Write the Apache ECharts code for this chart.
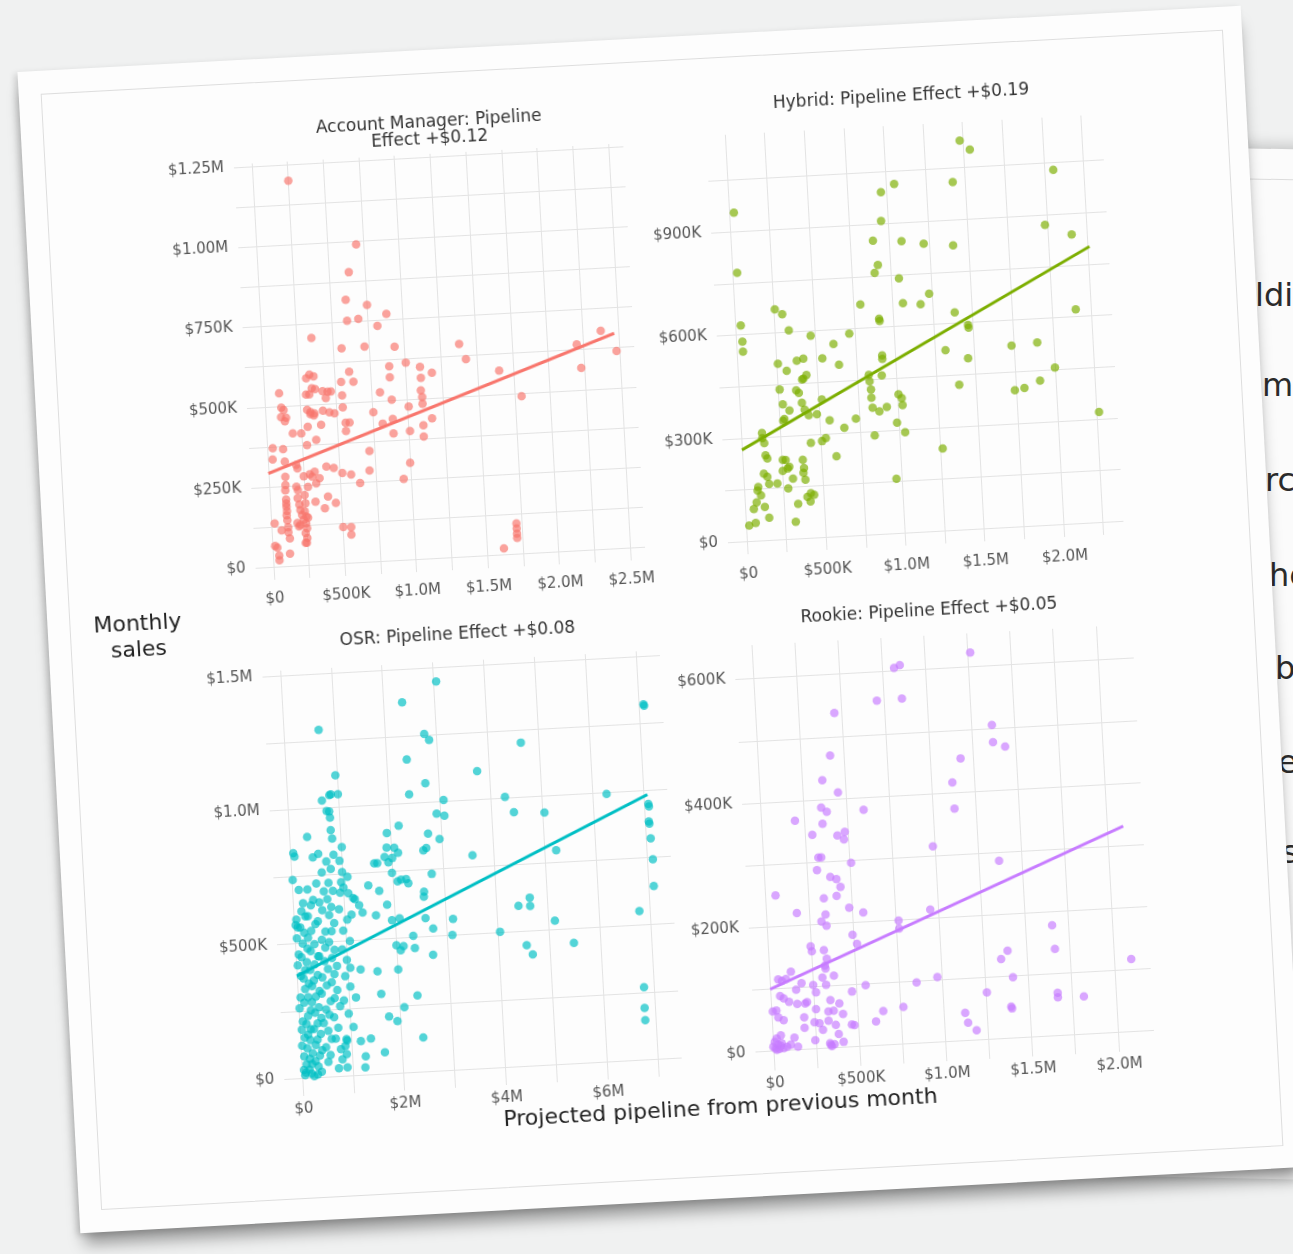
<!DOCTYPE html>
<html>
<head>
<meta charset="utf-8">
<title>Pipeline effect by role</title>
<script src="https://cdn.jsdelivr.net/npm/echarts@6/dist/echarts.min.js"></script>
<style>
html, body { margin: 0; padding: 0; }
body {
  width: 1293px; height: 1254px; overflow: hidden;
  background: #f0f1f1; position: relative;
  font-family: 'DejaVu Sans', sans-serif;
}
.back-card {
  position: absolute; left: 1110px; top: 150px; width: 420px; height: 1030px;
  background: #fbfbfb; transform: rotate(1.2deg);
  box-shadow: 0 -4px 14px rgba(0,0,0,0.18);
}
.back-card .rule { position: absolute; left: 0; right: 0; top: 30px; border-top: 1px solid #dcdcdc; }
.back-text { position: absolute; font-size: 32px; color: #2b2b2b; line-height: 36px; }
.card {
  position: absolute; left: 47.5px; top: 37.5px; width: 1225px; height: 1163px;
  background: #fdfdfd; transform: rotate(-3.1deg);
  box-shadow: 0 15px 16px -4px rgba(0,0,0,0.38), -3px 2px 6px rgba(0,0,0,0.15);
}
.card .frame {
  position: absolute; left: 22px; top: 23px; width: 1184px; height: 1118px;
  border: 1px solid #dedede; box-sizing: border-box;
}
#chart-container { position: absolute; left: 0; top: 0; width: 1225px; height: 1163px; }
</style>
</head>
<body>
<div class="back-card"><div class="rule"></div></div>
<div class="back-text" style="left:1255px;top:277px">ldi</div>
<div class="back-text" style="left:1262px;top:367px">m</div>
<div class="back-text" style="left:1265px;top:462px">rc</div>
<div class="back-text" style="left:1269px;top:557px">he</div>
<div class="back-text" style="left:1275px;top:650px">b</div>
<div class="back-text" style="left:1278px;top:744px">e</div>
<div class="back-text" style="left:1282px;top:834px">s</div>
<div class="card">
  <div class="frame"></div>
  <div id="chart-container"></div>
</div>

<script>
// all money values in $K: [projected pipeline, monthly sales]
const amPoints = [
  [250,1200],[700,990],[638,905],[606,820],[753,800],[608,754],[687,758],[885,769],[818,733],[352,707],
  [559,669],[720,671],[930,665],[1382,663],[1424,615],[1652,573],[1799,490],[2204,642],[2377,680],[2227,568],
  [2480,615],[1618,19],[1715,95],[1715,79],[1715,63],[1715,50],
  [1002,614],[1100,598],[885,605],[885,571],[1181,578],[1102,564],[1097,525],[1104,504],[1104,483],[890,501],
  [811,526],[1006,477],[757,465],[818,428],[890,441],[890,396],[1006,400],[1165,436],[1102,416],[1100,381],
  [995,301],[944,252],[715,345],[708,284],[638,247],[578,275],[517,281],[503,113],[559,111],[557,88],
  [629,563],[603,595],[543,565],[545,523],[545,485],[559,437],[587,437],[559,411],[408,304],[459,298],
  [408,210],[461,189],[382,174],[319,196],[324,290],[305,275],[289,283],[331,253],[261,148],
  [40,370],[35,335],[25,135],[20,65],[35,60],[45,35],[45,20],[105,540],[115,495],[130,487],
  [110,465],[145,463],[135,452],[112,365],[119,326],[117,279],[115,253],[112,237],[114,208],[114,195],
  [114,185],[116,172],[112,159],[115,143],[118,121],[118,106],[126,86],[71,113],[121,39],[186,413],
  [245,411],[198,314],[205,303],[191,246],[200,235],[195,210],[205,190],[210,173],[220,157],[230,142],
  [185,133],[195,122],[205,127],[245,219],[248,193],[240,168],[250,152],[245,131],[250,115],[238,100],
  [248,85],[235,70],[243,70],[272,244],[246,277],[293,531],[316,531],[295,484],[318,476],[345,471],
  [324,593],[352,587],[300,582],[335,550],[358,547],[316,470],[340,465],[293,431],[281,374],[347,389],
  [387,435],[410,539],[445,537],[468,537],[430,517],[405,478],[450,472],[485,468],[356,269]
];
const hybridPoints = [
  [30,955],[30,780],[35,627],[40,580],[40,551],[255,668],[300,653],[336,605],[472,586],[716,586],
  [796,669],[964,991],[1050,1013],[955,908],[897,852],[1077,846],[1216,835],[1420,1009],[1478,1128],[1539,1101],
  [1401,826],[2058,1029],[1987,871],[2152,839],[2152,621],[2264,320],[920,781],[897,758],[1048,739],[1065,666],
  [1176,660],[1233,689],[909,625],[912,618],[1388,631],[1468,593],[1470,585],[1317,523],[1457,496],[1392,421],
  [1735,526],[1898,531],[1741,396],[1802,401],[1903,420],[2001,456],[1266,239],[964,158],[842,287],[1035,292],
  [987,321],[928,368],[880,356],[838,368],[834,397],[834,421],[828,445],[825,464],[907,460],[916,508],
  [916,518],[1006,403],[1025,391],[1028,371],[729,339],[653,314],[594,233],[563,338],[521,400],[485,358],
  [508,279],[533,287],[538,519],[613,559],[641,498],[418,521],[376,516],[412,463],[432,473],[403,461],
  [362,430],[378,422],[394,393],[409,373],[433,356],[437,276],[309,488],[256,510],[258,435],[273,392],
  [313,373],[270,344],[278,349],[380,228],[385,204],[380,190],[390,170],[397,120],[420,130],[415,106],
  [440,125],[336,101],[315,49],[279,147],[312,175],[254,231],[272,230],[250,199],[282,205],[293,210],
  [212,163],[160,163],[151,184],[130,194],[147,247],[157,237],[132,312],[132,297],[143,282],[90,156],
  [85,146],[75,112],[55,93],[105,131],[125,97],[149,65],[20,46],[62,52]
];
const osrPoints = [
  [3050,1447],[2360,1377],[690,1291],[2760,1255],[2850,1231],[4650,1203],[2390,1163],[3760,1106],[2730,1071],[970,1119],
  [2400,1033],[3070,1005],[2920,956],[3070,947],[4280,1004],[4440,946],[5040,938],[6280,995],[7100,1321],[7110,1315],
  [7090,949],[7100,940],[7080,884],[7090,876],[7100,821],[7120,743],[7110,643],[6800,553],[6810,269],[6800,192],[6800,146],
  [4430,597],[4660,625],[4660,594],[4040,504],[4550,449],[4660,413],[5130,534],[5480,448],[5230,796],[3580,794],
  [3130,561],[3100,502],[2730,530],[2700,432],[2420,127],[2350,284],[2080,243],[1930,193],[1770,211],[1650,79],
  [1640,297],[1590,382],[2000,384],[1140,289],[1260,392],[1390,133],[1190,126],[1270,68],[1250,27],[900,31],
  [730,29],[910,136],[880,111],[900,80],[810,61],[2350,461],[2330,506],[2130,470],[2590,668],[2580,650],
  [2620,822],[2680,830],[2730,883],[2950,861],[2760,733],[2590,570],[2250,719],[2290,703],[2160,919],[1920,894],
  [1900,840],[2050,838],[2120,818],[2000,800],[1920,785],[1850,805],[1980,745],[2080,712],[2150,718],[1640,784],
  [1700,784],[1500,703],[1710,680],[1620,590],[1850,627],[1930,569],[2080,574],[1990,475],[2070,455],[1190,659],
  [1360,603],[1140,598],[1300,631],
  [20,738],[60,838],[80,825],[50,590],[30,570],[70,560],[40,520],[60,460],[30,420],[80,380],
  [50,300],[20,260],[70,210],[40,180],[90,150],[30,120],[60,80],[100,50],[40,30],[80,20],[60,10],
  [350,895],[130,700],[200,650],[160,620],[230,600],[120,560],[190,540],[150,500],[240,480],[110,450],
  [210,430],[170,400],[130,370],[230,350],[150,330],[200,300],[120,280],[240,250],[180,230],[140,200],
  [220,180],[160,160],[200,140],[130,110],[230,90],[170,70],[210,50],[150,30],[190,15],[240,5],
  [440,818],[300,700],[400,660],[350,640],[280,600],[420,570],[330,545],[260,520],[380,495],[300,470],
  [440,450],[360,420],[270,400],[410,380],[330,360],[290,340],[430,320],[350,300],[270,280],[400,260],
  [320,240],[440,220],[360,200],[280,180],[410,160],[340,140],[300,120],[420,100],[370,80],[280,60],
  [330,40],[390,20],[310,10],
  [550,830],[600,760],[480,720],[620,690],[520,650],[570,620],[470,580],[610,540],[530,510],[590,480],
  [460,450],[560,430],[620,400],[500,370],[580,340],[470,310],[640,280],[540,250],[600,230],[480,200],
  [560,170],[620,140],[500,110],[580,80],[530,55],
  [680,1028],[760,988],[830,1046],[860,1049],[810,986],[820,962],[820,916],[840,884],[850,824],[700,800],
  [780,772],[720,720],[800,690],[680,660],[750,630],[700,600],[790,570],[730,540],[670,500],[770,470],
  [710,440],[800,410],[740,380],[680,350],[780,320],[720,290],[820,260],[690,220],[760,180],[700,140],[790,100],
  [1000,1048],[1020,851],[960,800],[1000,758],[1100,739],[970,720],[1010,700],[940,681],[1100,678],[1220,654],
  [900,620],[1050,580],[960,540],[1080,500],[920,470],[1000,430],[1060,400],[950,370],[1040,330],[900,280],
  [980,230],[1060,180],[920,130]
];
const rookiePoints = [
  [1264,623],[818,605],[852,609],[708,554],[854,555],[458,538],[1367,505],[1368,477],[1437,469],[1175,454],
  [1120,416],[1124,374],[420,470],[367,431],[454,410],[597,380],[196,368],[352,387],[383,380],[355,361],
  [292,344],[437,341],[481,346],[474,334],[987,315],[1366,286],[320,307],[337,307],[308,287],[383,275],
  [418,271],[439,258],[508,296],[60,250],[178,220],[339,241],[414,244],[483,224],[563,215],[344,215],
  [318,204],[346,197],[494,180],[517,165],[952,214],[765,199],[766,186],[1653,178],[1662,140],[1387,141],
  [1347,128],[2101,117],[1410,98],[1664,69],[1664,62],[1815,61],[1254,76],[1391,51],[1395,48],[1122,45],
  [1136,29],[1183,16],[972,105],[850,98],[766,60],[648,55],[603,39],[554,98],[473,89],[462,36],
  [477,35],[373,116],[414,54],[361,60],[330,59],[383,22],[409,9],[335,5],[356,6],[325,102],
  [264,91],[250,103],[306,114],[327,128],[324,133],[337,144],[323,158],[247,165],[253,157],[198,74],
  [259,64],[188,52],[187,35],[246,43],[245,14],[275,41],[293,30],[150,97],[183,107],[209,76],
  [152,74],[105,78],[75,84],[55,88],[29,65],[8,64],[70,112],[125,126],[94,115],[49,115],
  [38,54],[68,49],[21,20],[0,7],[29,10],[50,12],[60,4],[81,6],[13,4],[47,25],
  [143,5],[102,9],[125,20],[328,44],[369,37],[345,77],[396,71],[20,2],[35,3],[10,15],[45,8],[330,8],[340,3]
];

// fitted line end points
const amFit = [[0,292],[2470,670]];
const hybridFit = [[0,266],[2260,801]];
const osrFit = [[0,380],[7080,984]];
const rookieFit = [[0,100],[2096,331]];

const panelTitles = [
  'Account Manager: Pipeline\nEffect +$0.12',
  'Hybrid: Pipeline Effect +$0.19',
  'OSR: Pipeline Effect +$0.08',
  'Rookie: Pipeline Effect +$0.05'
];
const colors = ['#F8766D', '#7CAE00', '#00BFC4', '#C77CFF'];

// grid lines (major + minor) and labelled ticks, $K
const amXGrid = [0,250,500,750,1000,1250,1500,1750,2000,2250,2500];
const amXTicks = [0,500,1000,1500,2000,2500];
const amXLabels = ['$0','$500K','$1.0M','$1.5M','$2.0M','$2.5M'];
const amYGrid = [0,125,250,375,500,625,750,875,1000,1125,1250];
const amYTicks = [0,250,500,750,1000,1250];
const amYLabels = ['$0','$250K','$500K','$750K','$1.00M','$1.25M'];

const hybridXGrid = [0,250,500,750,1000,1250,1500,1750,2000,2250];
const hybridXTicks = [0,500,1000,1500,2000];
const hybridXLabels = ['$0','$500K','$1.0M','$1.5M','$2.0M'];
const hybridYGrid = [0,150,300,450,600,750,900,1050];
const hybridYTicks = [0,300,600,900];
const hybridYLabels = ['$0','$300K','$600K','$900K'];

const osrXGrid = [0,1000,2000,3000,4000,5000,6000,7000];
const osrXTicks = [0,2000,4000,6000];
const osrXLabels = ['$0','$2M','$4M','$6M'];
const osrYGrid = [0,250,500,750,1000,1250,1500];
const osrYTicks = [0,500,1000,1500];
const osrYLabels = ['$0','$500K','$1.0M','$1.5M'];

const rookieXGrid = [0,250,500,750,1000,1250,1500,1750,2000];
const rookieXTicks = [0,500,1000,1500,2000];
const rookieXLabels = ['$0','$500K','$1.0M','$1.5M','$2.0M'];
const rookieYGrid = [0,100,200,300,400,500,600];
const rookieYTicks = [0,200,400,600];
const rookieYLabels = ['$0','$200K','$400K','$600K'];

var panels = [
  { pts: amPoints, fit: amFit, xGrid: amXGrid, xTicks: amXTicks, xLabels: amXLabels,
    yGrid: amYGrid, yTicks: amYTicks, yLabels: amYLabels,
    xMin: -125, xMax: 2605, yMin: -40, yMax: 1260,
    box: { left: 211, top: 104, width: 390, height: 417 }, xMargin: 12, title: [408, 81] },
  { pts: hybridPoints, fit: hybridFit, xGrid: hybridXGrid, xTicks: hybridXTicks, xLabels: hybridXLabels,
    yGrid: hybridYGrid, yTicks: hybridYTicks, yLabels: hybridYLabels,
    xMin: -120, xMax: 2380, yMin: -37, yMax: 1182,
    box: { left: 684, top: 101, width: 396, height: 420 }, xMargin: 13, title: [881, 73] },
  { pts: osrPoints, fit: osrFit, xGrid: osrXGrid, xTicks: osrXTicks, xLabels: osrXLabels,
    yGrid: osrYGrid, yTicks: osrYTicks, yLabels: osrYLabels,
    xMin: -356, xMax: 7476, yMin: -67, yMax: 1519,
    box: { left: 212, top: 612, width: 398, height: 426 }, xMargin: 6, title: [409, 586] },
  { pts: rookiePoints, fit: rookieFit, xGrid: rookieXGrid, xTicks: rookieXTicks, xLabels: rookieXLabels,
    yGrid: rookieYGrid, yTicks: rookieYTicks, yLabels: rookieYLabels,
    xMin: -105, xMax: 2210, yMin: -31, yMax: 654,
    box: { left: 684, top: 612, width: 399, height: 426 }, xMargin: 6, title: [881, 588] }
];

var font = "'DejaVu Sans', sans-serif";

function labelFor(ticks, labels) {
  return function (v) {
    var i = ticks.indexOf(Math.round(v));
    return i >= 0 ? labels[i] : '';
  };
}

function init() {
  var dom = document.getElementById('chart-container');
  var myChart = echarts.init(dom, null, { renderer: 'canvas' });

  var grid = [], xAxis = [], yAxis = [], series = [], graphic = [];

  panels.forEach(function (p, i) {
    grid.push({
      left: p.box.left, top: p.box.top, width: p.box.width, height: p.box.height,
      containLabel: false, outerBoundsMode: 'none'
    });
    xAxis.push({
      type: 'value', gridIndex: i, min: p.xMin, max: p.xMax,
      axisLine: { show: false },
      axisTick: { show: false, customValues: p.xGrid },
      splitLine: { show: true, lineStyle: { color: '#e3e3e3', width: 1 } },
      axisLabel: {
        customValues: p.xTicks, formatter: labelFor(p.xTicks, p.xLabels),
        color: '#555', fontSize: 15, fontFamily: font, margin: p.xMargin
      }
    });
    yAxis.push({
      type: 'value', gridIndex: i, min: p.yMin, max: p.yMax,
      axisLine: { show: false },
      axisTick: { show: false, customValues: p.yGrid },
      splitLine: { show: true, lineStyle: { color: '#e3e3e3', width: 1 } },
      axisLabel: {
        customValues: p.yTicks, formatter: labelFor(p.yTicks, p.yLabels),
        color: '#555', fontSize: 15, fontFamily: font, margin: 10
      }
    });
    series.push({
      type: 'scatter', xAxisIndex: i, yAxisIndex: i, data: p.pts,
      symbolSize: 8.5, silent: true,
      itemStyle: { color: colors[i], opacity: 0.68 }
    });
    series.push({
      type: 'line', xAxisIndex: i, yAxisIndex: i, data: p.fit,
      showSymbol: false, silent: true, z: 3,
      lineStyle: { color: colors[i], width: 3 }
    });
    graphic.push({
      type: 'text', x: p.title[0], y: p.title[1],
      style: {
        text: panelTitles[i], align: 'center', verticalAlign: 'middle',
        font: '17px ' + font, fill: '#333', lineHeight: 17
      }
    });
  });

  graphic.push({
    type: 'text', x: 90, y: 571,
    style: { text: 'Monthly\nsales', align: 'center', verticalAlign: 'middle',
      font: '22px ' + font, fill: '#222', lineHeight: 26 }
  });
  graphic.push({
    type: 'text', x: 646, y: 1073,
    style: { text: 'Projected pipeline from previous month', align: 'center', verticalAlign: 'middle',
      font: '22px ' + font, fill: '#222' }
  });

  var option = {
    animation: false,
    grid: grid, xAxis: xAxis, yAxis: yAxis, series: series, graphic: graphic
  };
  myChart.setOption(option);
}

init();
</script>
</body>
</html>
